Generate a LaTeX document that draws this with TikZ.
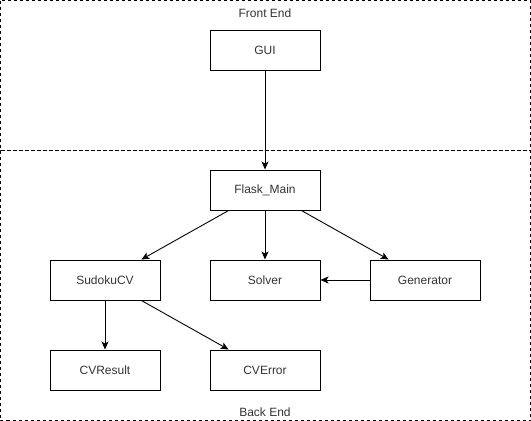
\documentclass[tikz,border=0pt]{standalone}
\usepackage{fontspec}
\setmainfont{Liberation Sans}
\usetikzlibrary{arrows.meta}
\begin{document}
\begin{tikzpicture}[x=1pt,y=-1pt,
  box/.style={draw=black,line width=1pt,minimum width=110pt,minimum height=40pt,inner sep=0pt,font=\fontsize{12}{14}\selectfont,text=black!80},
  region/.style={draw=black,line width=0.8pt,dash pattern=on 3pt off 3pt},
  lbl/.style={font=\fontsize{12}{14}\selectfont,text=black!80,inner sep=0pt},
  conn/.style={line width=0.9pt,-{Stealth[length=8pt,width=7pt,inset=2pt]}}]
\useasboundingbox (0,0) rectangle (531,421);
\draw[region] (0.5,0.5) rectangle (530.5,150.5);
\draw[region] (0.5,150.5) rectangle (530.5,420.5);
\node[lbl] (fe) at (265,13) {Front End};
\node[lbl] (be) at (265,412) {Back End};
\node[box] (gui) at (265,50) {GUI};
\node[box] (flask) at (265,190) {Flask\_Main};
\node[box] (sudoku) at (105,280) {SudokuCV};
\node[box] (solver) at (265,280) {Solver};
\node[box] (gen) at (425,280) {Generator};
\node[box] (cvres) at (105,370) {CVResult};
\node[box] (cverr) at (265,370) {CVError};
\draw[conn] (gui) -- (flask);
\draw[conn] (flask) -- (sudoku);
\draw[conn] (flask) -- (solver);
\draw[conn] (flask) -- (gen);
\draw[conn] (gen) -- (solver);
\draw[conn] (sudoku) -- (cvres);
\draw[conn] (sudoku) -- (cverr);
\end{tikzpicture}
\end{document}
